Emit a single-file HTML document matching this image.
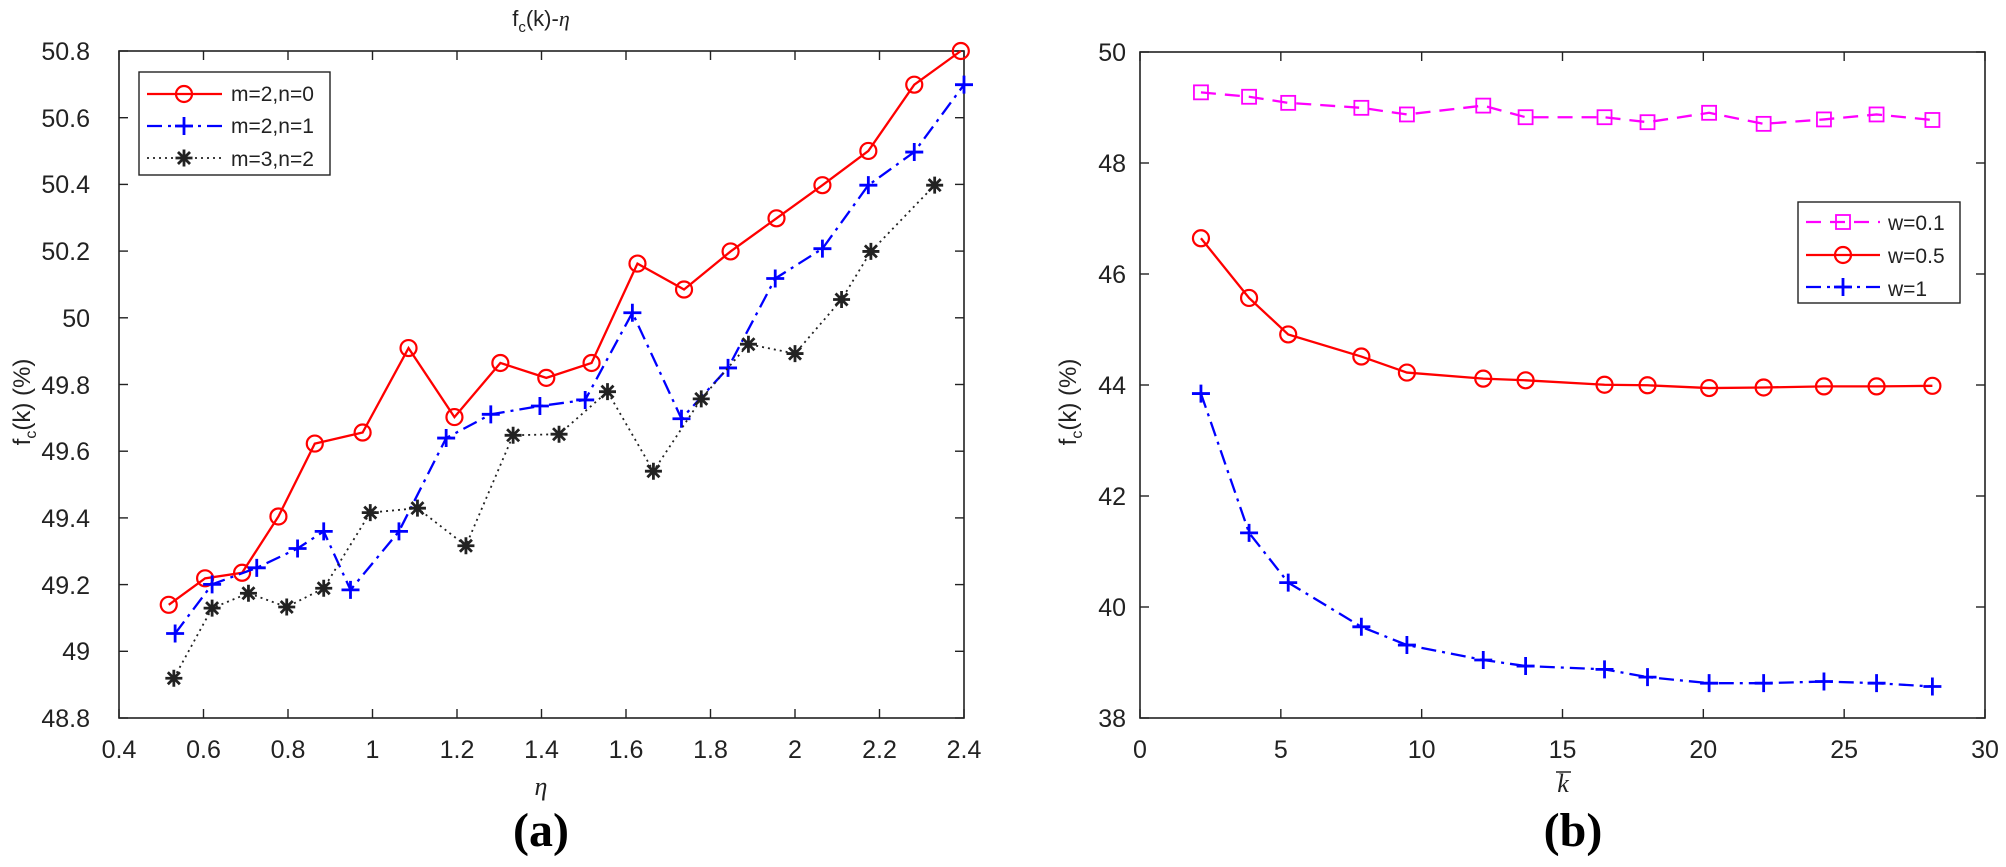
<!DOCTYPE html>
<html><head><meta charset="utf-8"><style>
html,body{margin:0;padding:0;background:#fff;}
svg{display:block;font-family:"Liberation Sans",sans-serif;}
</style></head><body>
<svg id="s" width="2006" height="867" viewBox="0 0 2006 867" xmlns="http://www.w3.org/2000/svg">
<rect width="2006" height="867" fill="#fff"/>
<rect x="119" y="51" width="845" height="667" fill="none" stroke="#222" stroke-width="1.6"/>
<g id="lt"></g>
<g font-size="25" fill="#222" text-anchor="end">
<text x="90" y="60">50.8</text><text x="90" y="127">50.6</text><text x="90" y="193">50.4</text><text x="90" y="260">50.2</text><text x="90" y="327">50</text><text x="90" y="394">49.8</text><text x="90" y="460">49.6</text><text x="90" y="527">49.4</text><text x="90" y="594">49.2</text><text x="90" y="660">49</text><text x="90" y="727">48.8</text>
</g>
<g font-size="25" fill="#222" text-anchor="middle">
<text x="119" y="758">0.4</text><text x="203.5" y="758">0.6</text><text x="288" y="758">0.8</text><text x="372.5" y="758">1</text><text x="457" y="758">1.2</text><text x="541.5" y="758">1.4</text><text x="626" y="758">1.6</text><text x="710.5" y="758">1.8</text><text x="795" y="758">2</text><text x="879.5" y="758">2.2</text><text x="964" y="758">2.4</text>
</g>
<text x="541" y="26" font-size="22" text-anchor="middle" fill="#222">f<tspan font-size="15" dy="6">c</tspan><tspan dy="-6">(k)-</tspan><tspan font-family="Liberation Serif" font-style="italic">η</tspan></text>
<text x="541" y="846" font-size="48" font-weight="bold" text-anchor="middle" font-family="Liberation Serif" fill="#000">(a)</text>
<text x="541" y="795" font-size="26" text-anchor="middle" font-family="Liberation Serif" font-style="italic" fill="#222">η</text>
<text transform="translate(30,402) rotate(-90)" font-size="24" text-anchor="middle" fill="#222">f<tspan font-size="16" dy="6">c</tspan><tspan dy="-6">(k) (%)</tspan></text>
<rect x="1140" y="52" width="845" height="666" fill="none" stroke="#222" stroke-width="1.6"/>
<g id="rt"></g>
<g font-size="25" fill="#222" text-anchor="end">
<text x="1126" y="61">50</text><text x="1126" y="172">48</text><text x="1126" y="283">46</text><text x="1126" y="394">44</text><text x="1126" y="505">42</text><text x="1126" y="616">40</text><text x="1126" y="727">38</text>
</g>
<g font-size="25" fill="#222" text-anchor="middle">
<text x="1140" y="758">0</text><text x="1280.8" y="758">5</text><text x="1421.7" y="758">10</text><text x="1562.5" y="758">15</text><text x="1703.3" y="758">20</text><text x="1844.2" y="758">25</text><text x="1985" y="758">30</text>
</g>
<text x="1563" y="792" font-size="26" text-anchor="middle" font-family="Liberation Serif" font-style="italic" fill="#222">k</text>
<line x1="1556" y1="772" x2="1571" y2="772" stroke="#222" stroke-width="1.5"/>
<text transform="translate(1076,402) rotate(-90)" font-size="24" text-anchor="middle" fill="#222">f<tspan font-size="16" dy="6">c</tspan><tspan dy="-6">(k) (%)</tspan></text>
<text x="1573" y="846" font-size="48" font-weight="bold" text-anchor="middle" font-family="Liberation Serif" fill="#000">(b)</text>
<g id="data"></g>
<rect x="139" y="72" width="191" height="103" fill="#fff" stroke="#222" stroke-width="1.4"/>
<text x="231" y="101" font-size="21" fill="#222">m=2,n=0</text>
<text x="231" y="133" font-size="21" fill="#222">m=2,n=1</text>
<text x="231" y="166" font-size="21" fill="#222">m=3,n=2</text>
<rect x="1798" y="202" width="162" height="101" fill="#fff" stroke="#222" stroke-width="1.4"/>
<text x="1888" y="230" font-size="21" fill="#222">w=0.1</text>
<text x="1888" y="263" font-size="21" fill="#222">w=0.5</text>
<text x="1888" y="296" font-size="21" fill="#222">w=1</text>
<g id="leg"></g>
</svg>
<script>
var NS="http://www.w3.org/2000/svg";
function el(p,t,a){var e=document.createElementNS(NS,t);for(var k in a)e.setAttribute(k,a[k]);p.appendChild(e);return e;}
var lt=document.getElementById('lt'),rt=document.getElementById('rt');
function ticks(g,x0,x1,y0,y1,nx,ny){
 for(var i=0;i<=nx;i++){var x=x0+i*(x1-x0)/nx;el(g,'line',{x1:x,y1:y1,x2:x,y2:y1-9,stroke:'#222','stroke-width':1.4});el(g,'line',{x1:x,y1:y0,x2:x,y2:y0+9,stroke:'#222','stroke-width':1.4});}
 for(var i=0;i<=ny;i++){var y=y0+i*(y1-y0)/ny;el(g,'line',{x1:x0,y1:y,x2:x0+9,y2:y,stroke:'#222','stroke-width':1.4});el(g,'line',{x1:x1,y1:y,x2:x1-9,y2:y,stroke:'#222','stroke-width':1.4});}
}
ticks(lt,119,964,51,718,10,10);
ticks(rt,1140,1985,52,718,6,6);
var d=document.getElementById('data');
function L(zx,zy){return [119+(zx-187)/1325*845,51+(zy-92)/1208*667];}
function R(zx,zy){return [1140+(zx-218)/1317*845,52+(zy-95)/1205*666];}
function mk(g,t,x,y,c){
 if(t=='o')el(g,'circle',{cx:x,cy:y,r:8,fill:'none',stroke:c,'stroke-width':2.2});
 else if(t=='+'){el(g,'path',{d:'M'+(x-9)+' '+y+'h18M'+x+' '+(y-9)+'v18',stroke:c,'stroke-width':2.8});}
 else if(t=='*'){var p='';for(var a=0;a<4;a++){var an=a*Math.PI/4,dx=8.5*Math.cos(an),dy=8.5*Math.sin(an);p+='M'+(x-dx)+' '+(y-dy)+'L'+(x+dx)+' '+(y+dy);}el(g,'path',{d:p,stroke:c,'stroke-width':2.8});}
 else if(t=='s')el(g,'rect',{x:x-7,y:y-7,width:14,height:14,fill:'none',stroke:c,'stroke-width':1.8});
}
function series(f,pts,c,dash,t,w){var q=pts.map(function(p){return f(p[0],p[1]);});
 el(d,'polyline',{points:q.map(function(p){return p.join(',')}).join(' '),fill:'none',stroke:c,'stroke-width':w||2.3,'stroke-dasharray':dash});
 q.forEach(function(p){mk(d,t,p[0],p[1],c);});}
series(L,[[265,1095],[322,1047],[380,1037],[437,935],[494,803],[569,783],[641,630],[713,755],[785,657],[857,684],[928,657],[1000,477],[1073,524],[1146,455],[1218,395],[1290,335],[1362,273],[1434,153],[1507,92]],'#f00','','o');
series(L,[[275,1147],[333,1058],[403,1028],[467,993],[508,962],[550,1068],[626,962],[700,793],[770,750],[847,735],[918,724],[992,566],[1069,758],[1142,666],[1216,504],[1290,450],[1362,335],[1434,275],[1512,153]],'#00f','15 6 3 6','+');
series(L,[[273,1228],[333,1101],[390,1074],[450,1099],[508,1065],[581,928],[655,920],[731,988],[805,788],[877,786],[953,709],[1025,853],[1100,722],[1174,623],[1247,640],[1320,542],[1366,455],[1466,335]],'#222','2 4','*',1.8);
var xs=[313,388,449,563,634,753,819,942,1009,1105,1190,1284,1366,1453];
function z(ys){return xs.map(function(x,i){return [x,ys[i]];});}
series(R,z([168,176,187,196,208,192,213,213,222,205,225,217,208,218]),'#f0f','15 9','s');
series(R,z([432,540,606,646,675,686,689,697,698,703,702,700,700,699]),'#f00','','o');
series(R,z([713,965,1055,1135,1168,1195,1206,1212,1226,1237,1237,1234,1237,1243]),'#00f','15 6 3 6','+');
var g=document.getElementById('leg');
el(g,'line',{x1:147,y1:94,x2:222,y2:94,stroke:'#f00','stroke-width':2.3});mk(g,'o',184,94,'#f00');
el(g,'line',{x1:147,y1:126,x2:222,y2:126,stroke:'#00f','stroke-width':2.3,'stroke-dasharray':'15 6 3 6'});mk(g,'+',184,126,'#00f');
el(g,'line',{x1:147,y1:158,x2:222,y2:158,stroke:'#222','stroke-width':1.8,'stroke-dasharray':'2 4'});mk(g,'*',184,158,'#222');
el(g,'line',{x1:1806,y1:222,x2:1880,y2:222,stroke:'#f0f','stroke-width':2.3,'stroke-dasharray':'15 9'});mk(g,'s',1843,222,'#f0f');
el(g,'line',{x1:1806,y1:255,x2:1880,y2:255,stroke:'#f00','stroke-width':2.3});mk(g,'o',1843,255,'#f00');
el(g,'line',{x1:1806,y1:287,x2:1880,y2:287,stroke:'#00f','stroke-width':2.3,'stroke-dasharray':'15 6 3 6'});mk(g,'+',1843,287,'#00f');
</script>
</body></html>
